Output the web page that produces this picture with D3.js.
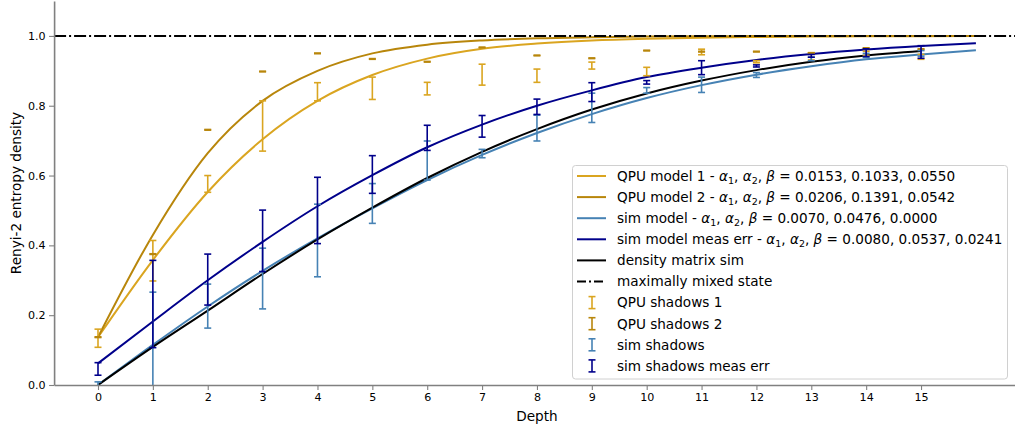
<!DOCTYPE html>
<html>
<head>
<meta charset="utf-8">
<script src="https://cdn.jsdelivr.net/npm/d3@7"></script>
<style>
  html, body { margin: 0; padding: 0; background: #fff; }
  svg { display: block; font-family: "DejaVu Sans", sans-serif; }
</style>
</head>
<body>
<svg id="chart" width="1015" height="428"></svg>
<script>
// Depth grid for the fitted model curves and the shadow estimates
const modelDepths = d3.range(0, 17);
const shadowDepths = d3.range(0, 16);
const xTickLabels = d3.range(0, 16);
const yTickLabels = [0.0, 0.2, 0.4, 0.6, 0.8, 1.0];

// Model curves (Renyi-2 entropy density vs depth)
const qpuModel1 = [0.137, 0.358, 0.553, 0.704, 0.814, 0.888, 0.935, 0.963, 0.978, 0.987, 0.992, 0.995, 0.997, 0.998, 0.999, 0.999, 1.0];
const qpuModel2 = [0.137, 0.430, 0.664, 0.814, 0.900, 0.950, 0.975, 0.987, 0.993, 0.996, 0.998, 0.999, 0.9995, 1.0, 1.0, 1.0, 1.0];
const simModel = [0.0, 0.115, 0.225, 0.327, 0.420, 0.506, 0.587, 0.659, 0.722, 0.776, 0.822, 0.859, 0.889, 0.913, 0.933, 0.947, 0.959];
const simModelMeasErr = [0.062, 0.182, 0.300, 0.410, 0.512, 0.601, 0.681, 0.746, 0.800, 0.844, 0.882, 0.909, 0.931, 0.948, 0.961, 0.971, 0.979];
const densityMatrixSim = [0.0, 0.109, 0.213, 0.318, 0.417, 0.508, 0.593, 0.668, 0.733, 0.789, 0.835, 0.872, 0.902, 0.926, 0.944, 0.957];
const maximallyMixed = 1.0;

// Classical-shadow estimates: mean and error half-width per depth
const qpuShadows1 = [0.134, 0.356, 0.576, 0.742, 0.840, 0.850, 0.849, 0.889, 0.886, 0.915, 0.898, 0.954, 0.926, 0.941, 0.950, 0.940];
const qpuShadows1Err = [0.026, 0.058, 0.024, 0.072, 0.026, 0.032, 0.018, 0.030, 0.019, 0.010, 0.012, 0.008, 0.003, 0.010, 0.006, 0.007];
const qpuShadows2 = [0.137, 0.375, 0.731, 0.898, 0.950, 0.934, 0.926, 0.967, 0.944, 0.936, 0.958, 0.955, 0.955, 0.951, 0.965, 0.962];
const qpuShadows2Err = [0.001, 0.001, 0.001, 0.001, 0.001, 0.001, 0.001, 0.001, 0.001, 0.001, 0.001, 0.001, 0.001, 0.001, 0.001, 0.001];
const simShadows = [0.0, 0.105, 0.226, 0.305, 0.414, 0.520, 0.643, 0.663, 0.736, 0.794, 0.844, 0.860, 0.888, 0.934, 0.944, 0.950];
const simShadowsErr = [0.009, 0.161, 0.063, 0.087, 0.104, 0.057, 0.056, 0.012, 0.037, 0.042, 0.008, 0.022, 0.007, 0.005, 0.006, 0.008];
const simShadowsMeasErr = [0.046, 0.232, 0.302, 0.413, 0.500, 0.603, 0.708, 0.741, 0.797, 0.839, 0.867, 0.909, 0.914, 0.943, 0.952, 0.954];
const simShadowsMeasErrErr = [0.018, 0.125, 0.073, 0.088, 0.095, 0.054, 0.036, 0.031, 0.022, 0.027, 0.005, 0.020, 0.003, 0.004, 0.011, 0.018];

const colors = {
  qpu1: "#DAA520",
  qpu2: "#B8860B",
  sim: "#4682B4",
  measErr: "#00008B",
  dm: "#000000"
};

const svg = d3.select("#chart");
const plot = { left: 54.1, right: 1019.8, top: 1, bottom: 385 };

const x = d3.scaleLinear().domain([-0.8, 16.8]).range([plot.left, plot.right]);
const y = d3.scaleLinear().domain([0, 1.1]).range([plot.bottom, plot.top]);

svg.append("defs").append("clipPath").attr("id", "plotClip")
  .append("rect")
  .attr("x", plot.left).attr("y", plot.top)
  .attr("width", plot.right - plot.left).attr("height", plot.bottom - plot.top);

const area = svg.append("g").attr("clip-path", "url(#plotClip)");

// Model curves
const line = d3.line().x(d => x(d[0])).y(d => y(d[1])).curve(d3.curveMonotoneX);
const curves = [
  { values: qpuModel1, depths: modelDepths, color: colors.qpu1 },
  { values: qpuModel2, depths: modelDepths, color: colors.qpu2 },
  { values: simModel, depths: modelDepths, color: colors.sim },
  { values: simModelMeasErr, depths: modelDepths, color: colors.measErr },
  { values: densityMatrixSim, depths: shadowDepths, color: colors.dm }
];
curves.forEach(c => {
  area.append("path")
    .datum(c.depths.map((d, i) => [d, c.values[i]]))
    .attr("fill", "none")
    .attr("stroke", c.color)
    .attr("stroke-width", 2)
    .attr("stroke-linejoin", "round")
    .attr("d", line);
});

// Maximally mixed state reference
area.append("line")
  .attr("x1", plot.left).attr("x2", plot.right)
  .attr("y1", y(maximallyMixed)).attr("y2", y(maximallyMixed))
  .attr("stroke", "#000").attr("stroke-width", 2)
  .attr("stroke-dasharray", "12,3,2,3");

// Error bars
const capHalf = 3.5;
function errorBars(means, errs, color) {
  const g = area.append("g").attr("stroke", color).attr("stroke-width", 1.6).attr("fill", "none");
  shadowDepths.forEach((d, i) => {
    const cx = x(d);
    const y0 = y(means[i] - errs[i]);
    const y1 = y(means[i] + errs[i]);
    g.append("line").attr("x1", cx).attr("x2", cx).attr("y1", y0).attr("y2", y1);
    g.append("line").attr("x1", cx - capHalf).attr("x2", cx + capHalf).attr("y1", y0).attr("y2", y0);
    g.append("line").attr("x1", cx - capHalf).attr("x2", cx + capHalf).attr("y1", y1).attr("y2", y1);
  });
}
errorBars(qpuShadows1, qpuShadows1Err, colors.qpu1);
errorBars(qpuShadows2, qpuShadows2Err, colors.qpu2);
errorBars(simShadows, simShadowsErr, colors.sim);
errorBars(simShadowsMeasErr, simShadowsMeasErrErr, colors.measErr);

// Axes
const axisColor = "#808080";
const xAxis = svg.append("g")
  .attr("transform", `translate(0,${plot.bottom})`)
  .call(d3.axisBottom(x).tickValues(xTickLabels).tickFormat(d3.format("d")).tickSize(5).tickPadding(3.5).tickSizeOuter(0));
const yAxis = svg.append("g")
  .attr("transform", `translate(${plot.left},0)`)
  .call(d3.axisLeft(y).tickValues(yTickLabels).tickFormat(d3.format(".1f")).tickSize(5).tickPadding(3.5).tickSizeOuter(0));
[xAxis, yAxis].forEach(a => {
  a.select(".domain").attr("stroke", axisColor).attr("stroke-width", 1.6);
  a.selectAll(".tick line").attr("stroke", axisColor).attr("stroke-width", 1.1);
  a.selectAll(".tick text").attr("fill", "#000").attr("font-size", 11.1)
    .attr("font-family", "DejaVu Sans");
});

svg.append("text")
  .attr("x", (plot.left + plot.right) / 2).attr("y", 420.5)
  .attr("text-anchor", "middle").attr("font-size", 13.6).text("Depth");
svg.append("text")
  .attr("transform", `translate(20.5,${(plot.top + plot.bottom) / 2}) rotate(-90)`)
  .attr("text-anchor", "middle").attr("font-size", 13.6).text("Renyi-2 entropy density");

// Legend
const legendEntries = [
  { kind: "line", color: colors.qpu1, label: "QPU model 1 - ", params: "0.0153, 0.1033, 0.0550" },
  { kind: "line", color: colors.qpu2, label: "QPU model 2 - ", params: "0.0206, 0.1391, 0.0542" },
  { kind: "line", color: colors.sim, label: "sim model - ", params: "0.0070, 0.0476, 0.0000" },
  { kind: "line", color: colors.measErr, label: "sim model meas err - ", params: "0.0080, 0.0537, 0.0241" },
  { kind: "line", color: colors.dm, label: "density matrix sim" },
  { kind: "dash", color: "#000", label: "maximally mixed state" },
  { kind: "err", color: colors.qpu1, label: "QPU shadows 1" },
  { kind: "err", color: colors.qpu2, label: "QPU shadows 2" },
  { kind: "err", color: colors.sim, label: "sim shadows" },
  { kind: "err", color: colors.measErr, label: "sim shadows meas err" }
];

const legend = svg.append("g");
legend.append("rect")
  .attr("x", 572.5).attr("y", 165.5).attr("width", 435).attr("height", 213.5)
  .attr("rx", 3).attr("fill", "#fff").attr("fill-opacity", 0.8)
  .attr("stroke", "#d0d0d0").attr("stroke-width", 1);

const rowH = 21.1;
legendEntries.forEach((e, i) => {
  const cy = 176 + i * rowH;
  const g = legend.append("g");
  if (e.kind === "line" || e.kind === "dash") {
    g.append("line").attr("x1", 577).attr("x2", 606).attr("y1", cy).attr("y2", cy)
      .attr("stroke", e.color).attr("stroke-width", 2)
      .attr("stroke-dasharray", e.kind === "dash" ? "9,3,2,3" : null);
  } else {
    const gx = 592;
    g.append("line").attr("x1", gx).attr("x2", gx).attr("y1", cy - 6).attr("y2", cy + 6)
      .attr("stroke", e.color).attr("stroke-width", 1.6);
    [cy - 6, cy + 6].forEach(yy => g.append("line")
      .attr("x1", gx - capHalf).attr("x2", gx + capHalf).attr("y1", yy).attr("y2", yy)
      .attr("stroke", e.color).attr("stroke-width", 1.6));
  }
  const t = g.append("text").attr("x", 617).attr("y", cy + 4.8).attr("font-size", 13.6).attr("fill", "#000");
  t.append("tspan").text(e.label);
  if (e.params) {
    t.append("tspan").attr("font-style", "italic").text("α");
    t.append("tspan").attr("font-size", 9.5).attr("dy", 3).text("1");
    t.append("tspan").attr("dy", -3).text(", ");
    t.append("tspan").attr("font-style", "italic").text("α");
    t.append("tspan").attr("font-size", 9.5).attr("dy", 3).text("2");
    t.append("tspan").attr("dy", -3).text(", ");
    t.append("tspan").attr("font-style", "italic").text("β");
    t.append("tspan").text(" = " + e.params);
  }
});
</script>
</body>
</html>
